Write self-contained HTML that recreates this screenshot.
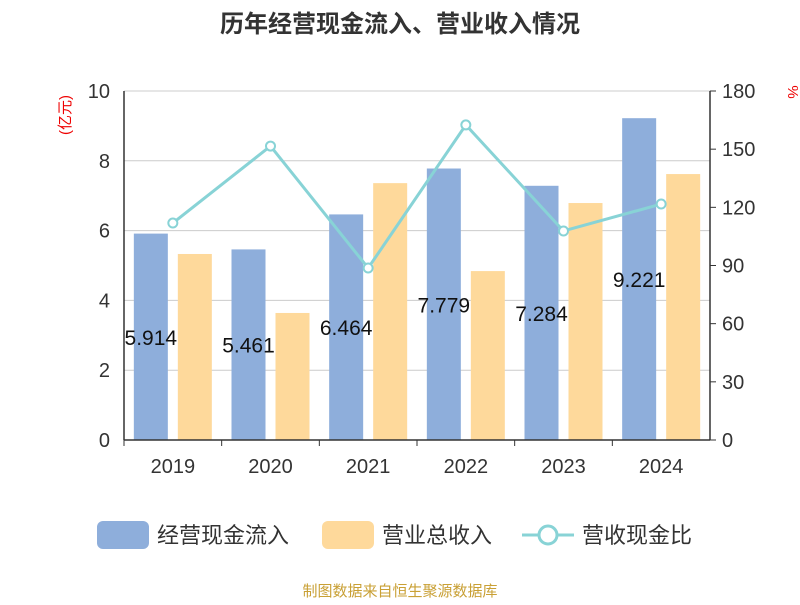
<!DOCTYPE html>
<html><head><meta charset="utf-8"><style>
body{margin:0;background:#fff;}
svg text{font-family:"Liberation Sans","Noto Sans CJK SC",sans-serif;}
</style></head><body>
<svg id="chart" width="800" height="600">
<text x="400" y="32" text-anchor="middle" font-size="24" font-weight="bold" fill="#333">历年经营现金流入、营业收入情况</text>
<text x="0" y="0" transform="translate(70,115) rotate(-90)" text-anchor="middle" font-size="15" fill="#e00">(亿元)</text>
<text x="788" y="92" transform="rotate(90,788,92)" text-anchor="middle" font-size="15" fill="#e00">%</text>
<g id="grid"></g><g id="bars"></g><g id="line"></g><g id="axes"></g><g id="labels"></g>
<g>
<rect x="97" y="521" width="52" height="28" rx="6" fill="#8eaedb"/>
<text x="157" y="543" font-size="22" fill="#333">经营现金流入</text>
<rect x="322" y="521" width="52" height="28" rx="6" fill="#fed99b"/>
<text x="382" y="543" font-size="22" fill="#333">营业总收入</text>
<line x1="522" y1="535" x2="574" y2="535" stroke="#88d3d6" stroke-width="3"/>
<circle cx="548" cy="535" r="9" fill="#fff" stroke="#88d3d6" stroke-width="3"/>
<text x="582" y="543" font-size="22" fill="#333">营收现金比</text>
</g>
<text x="400" y="596" text-anchor="middle" font-size="15" fill="#c9a035">制图数据来自恒生聚源数据库</text>
</svg>
<script>
const categories=["2019","2020","2021","2022","2023","2024"];
const cashInflow=[5.914,5.461,6.464,7.779,7.284,9.221];
const revenue=[5.33,3.64,7.36,4.84,6.79,7.62];
const ratio=[111.9,151.6,88.7,162.5,107.8,121.7];
const leftTicks=[0,2,4,6,8,10];
const rightTicks=[0,30,60,90,120,150,180];
const NS="http://www.w3.org/2000/svg";
const L=124,R=710,T=91,B=440;
const yL=v=>B-(v/10)*(B-T), yR=v=>B-(v/180)*(B-T);
const bw=(R-L)/categories.length, cx=i=>L+bw*(i+0.5);
function mk(p,tag,a){const e=document.createElementNS(NS,tag);for(const k in a)e.setAttribute(k,a[k]);document.getElementById(p).appendChild(e);return e;}
leftTicks.forEach(t=>{const g=mk('grid','line',{x1:L,x2:R,y1:yL(t),y2:yL(t),stroke:'#ccc','stroke-width':1});

const e=mk('axes','text',{x:L-14,y:yL(t)+7,'text-anchor':'end','font-size':20,fill:'#333'});e.textContent=t;
});
rightTicks.forEach(t=>{const e=mk('axes','text',{x:R+12,y:yR(t)+7,'font-size':20,fill:'#333'});e.textContent=t;

const k=mk('axes','line',{x1:R,x2:R+6,y1:yR(t),y2:yR(t),stroke:'#333'});});
[[L,T,L,B],[R,T,R,B],[L,B,R,B]].forEach(c=>{const a=mk('axes','line',{x1:c[0],y1:c[1],x2:c[2],y2:c[3],stroke:'#333','stroke-width':1.5});
});
categories.forEach((c,i)=>{
const k=mk('axes','line',{x1:L+bw*i,x2:L+bw*i,y1:B,y2:B+6,stroke:'#333'});
const t=mk('axes','text',{x:cx(i),y:B+33,'text-anchor':'middle','font-size':20,fill:'#333'});t.textContent=c;

const b1=mk('bars','rect',{x:cx(i)-39,y:yL(cashInflow[i]),width:34,height:B-yL(cashInflow[i]),fill:'#8eaedb'});

const b2=mk('bars','rect',{x:cx(i)+5,y:yL(revenue[i]),width:34,height:B-yL(revenue[i]),fill:'#fed99b'});

const lb=mk('labels','text',{x:cx(i)-22,y:(yL(cashInflow[i])+B)/2+8,'text-anchor':'middle','font-size':21,fill:'#111'});lb.textContent=cashInflow[i].toFixed(3);
});
const pl=mk('line','polyline',{points:ratio.map((v,i)=>cx(i)+','+yR(v)).join(' '),fill:'none',stroke:'#88d3d6','stroke-width':3});

ratio.forEach((v,i)=>{const p=mk('line','circle',{cx:cx(i),cy:yR(v),r:4.5,fill:'#fff',stroke:'#88d3d6','stroke-width':2});
});
</script>
</body></html>
